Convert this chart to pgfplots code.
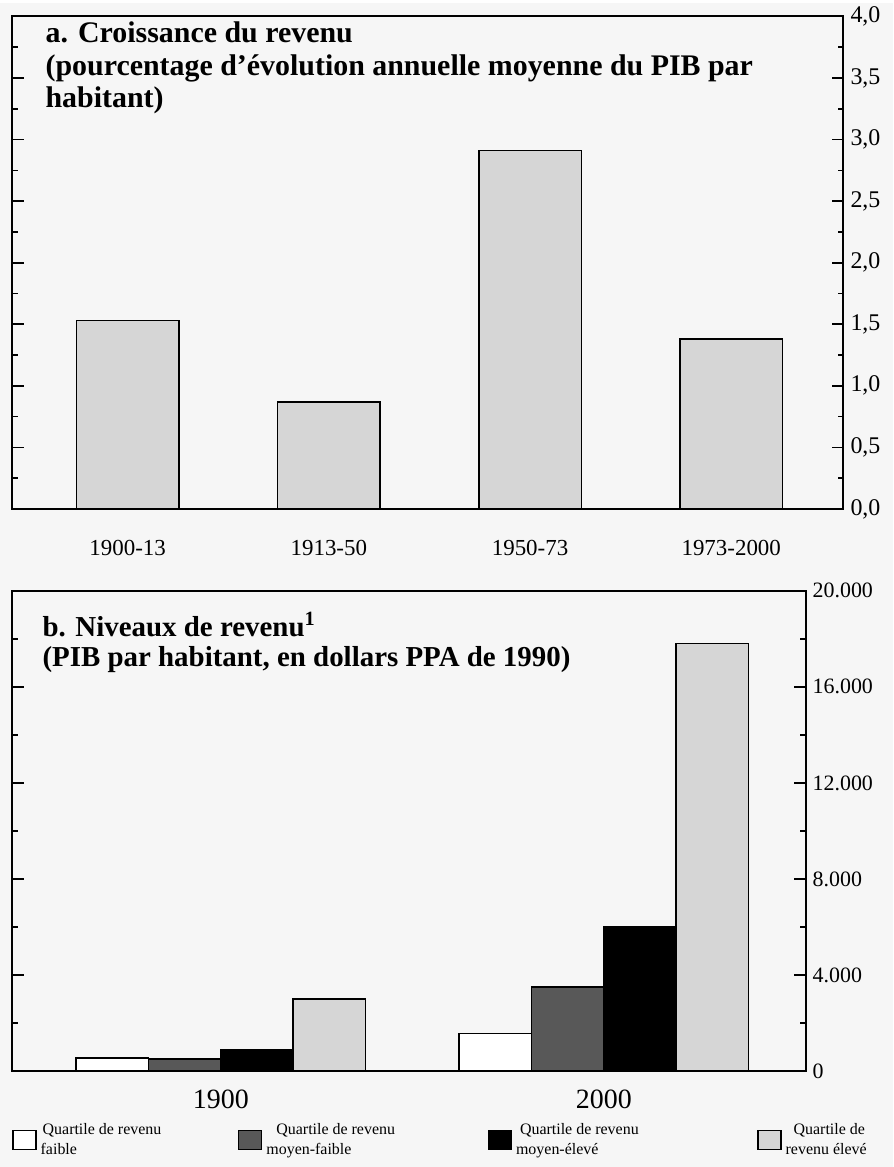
\documentclass[border=0pt]{standalone}
\usepackage{fontspec}
\setmainfont{Liberation Serif}
\usepackage{pgfplots}
\pgfplotsset{compat=1.18}

\definecolor{paper}{HTML}{F6F6F6}
\definecolor{barlight}{HTML}{D6D6D6}
\definecolor{bardark}{HTML}{585858}

\pgfplotsset{
  panel/.style={
    scale only axis,
    axis line style={line width=1pt},
    tick align=inside,
    ytick pos=both,
    yticklabel pos=right,
    major tick length=6pt,
    minor tick length=3pt,
    every tick/.style={black, line width=0.8pt},
    xtick style={draw=none},
    /pgf/number format/assume math mode=true,
    scaled y ticks=false,
  },
}

\begin{document}
\begin{tikzpicture}[x=1pt,y=1pt]
\fill[paper] (0,0) rectangle (448,-583.5);

% a. Croissance du revenu
\begin{axis}[
  panel,
  at={(6pt,-6.5pt)}, anchor=north west,
  width=417pt, height=247pt,
  xmin=-0.575, xmax=3.558,
  ymin=0, ymax=4,
  ytick={0,0.5,...,4},
  minor y tick num=1,
  xtick={0,1,2,3},
  xticklabels={1900-13,1913-50,1950-73,1973-2000},
  xticklabel style={font=\fontsize{11.5}{13}\selectfont, yshift=-6pt},
  yticklabel style={font=\fontsize{12}{14}\selectfont,
    /pgf/number format/.cd, fixed, fixed zerofill, precision=1, use comma},
  ybar, bar width=0.51,
]
\addplot[draw=black, line width=0.8pt, fill=barlight] coordinates {
  (0,1.53) (1,0.87) (2,2.91) (3,1.38)
};
\node[anchor=north west, align=left, inner sep=0pt,
      font=\bfseries\fontsize{15}{16.3}\selectfont]
  at (rel axis cs:0.04,0.99)
  {a. Croissance du revenu\\(pourcentage d’évolution annuelle moyenne du PIB par\\habitant)};
\end{axis}

% b. Niveaux de revenu
\begin{axis}[
  panel,
  at={(6pt,-294.5pt)}, anchor=north west,
  width=398pt, height=241pt,
  xmin=-0.5456, xmax=1.527,
  ymin=0, ymax=20000,
  ytick={0,4000,...,20000},
  minor y tick num=1,
  xtick={0,1},
  xticklabels={1900,2000},
  xticklabel style={font=\fontsize{14}{16}\selectfont},
  yticklabel style={font=\fontsize{11}{13}\selectfont,
    /pgf/number format/.cd, fixed, 1000 sep={.}},
  ybar=0pt, bar width=0.189,
  legend columns=4,
  legend cell align=left,
  legend style={at={(axis description cs:0,-0.1)}, anchor=north west,
    draw=none, fill=none, inner sep=0pt,
    font=\fontsize{8}{9.5}\selectfont,
    /tikz/every even column/.append style={column sep=1pt}},
  legend image code/.code={\draw[#1, line width=0.7pt] (0pt,-4.5pt) rectangle (11.5pt,5pt);},
]
\addplot[draw=black, line width=0.8pt, fill=white] coordinates {(0,550) (1,1580)};
\addlegendentry{\makebox[96pt][l]{\shortstack[l]{\hspace*{1pt}Quartile de revenu\\faible}}}
\addplot[draw=black, line width=0.8pt, fill=bardark] coordinates {(0,520) (1,3500)};
\addlegendentry{\makebox[108pt][l]{\shortstack[l]{\hspace*{5pt}Quartile de revenu\\moyen-faible}}}
\addplot[draw=black, line width=0.8pt, fill=black] coordinates {(0,910) (1,6000)};
\addlegendentry{\makebox[118pt][l]{\shortstack[l]{\hspace*{2pt}Quartile de revenu\\moyen-élevé}}}
\addplot[draw=black, line width=0.8pt, fill=barlight] coordinates {(0,3000) (1,17800)};
\addlegendentry{\shortstack[l]{\hspace*{4pt}Quartile de\\revenu élevé}}
\node[anchor=north west, align=left, inner sep=0pt,
      font=\bfseries\fontsize{14.5}{15.5}\selectfont]
  at (rel axis cs:0.038,0.956)
  {b. Niveaux de revenu\textsuperscript{1}\\(PIB par habitant, en dollars PPA de 1990)};
\end{axis}
\end{tikzpicture}
\end{document}
